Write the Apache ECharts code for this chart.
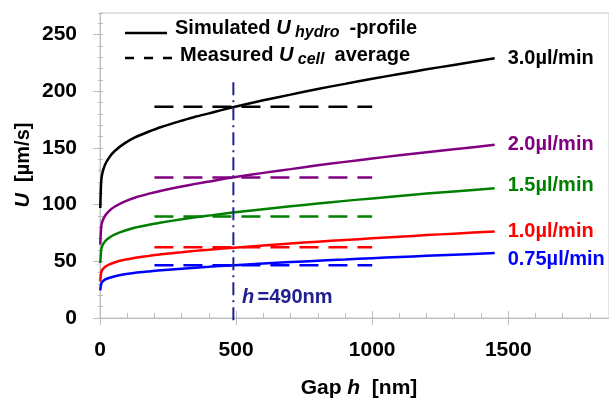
<!DOCTYPE html>
<html>
<head>
<meta charset="utf-8">
<script src="https://cdn.jsdelivr.net/npm/echarts@6/dist/echarts.min.js"></script>
<style>html,body{margin:0;padding:0;background:#fff}#c{width:609px;height:401px}</style>
</head>
<body>
<div id="c"></div>
<script>
// ---- data ----
const gapH = [1, 4, 8, 18, 35, 55, 90, 130, 180, 225, 300, 350, 400, 480, 600, 700, 800, 900, 1000, 1100, 1200, 1300, 1450];
const u30  = [97, 119, 127, 135, 142, 147.5, 154, 159.5, 164.5, 168.5, 174, 177.5, 180.5, 185.5, 192, 197, 202, 206.5, 211, 215.2, 219.3, 223.2, 229];
const u20  = [64.7, 79.3, 84.7, 90, 94.7, 98.3, 102.7, 106.3, 109.7, 112.3, 116, 118.3, 120.3, 123.7, 128, 131.3, 134.7, 137.7, 140.7, 143.5, 146.2, 148.8, 152.7];
const u15  = [48.5, 59.5, 63.5, 67.5, 71, 73.8, 77, 79.8, 82.3, 84.3, 87, 88.8, 90.3, 92.8, 96, 98.5, 101, 103.3, 105.5, 107.6, 109.7, 111.6, 114.5];
const u10  = [32.3, 39.7, 42.3, 45, 47.3, 49.2, 51.3, 53.2, 54.8, 56.2, 58, 59.2, 60.2, 61.8, 64, 65.7, 67.3, 68.8, 70.3, 71.7, 73.1, 74.4, 76.3];
const u075 = [24.3, 29.8, 31.8, 33.8, 35.5, 36.9, 38.5, 39.9, 41.1, 42.1, 43.5, 44.4, 45.1, 46.4, 48, 49.3, 50.5, 51.6, 52.8, 53.8, 54.8, 55.8, 57.3];
const measuredRange = [200, 1000];
const measured = [186.3, 124, 89.5, 62.5, 46.5];
const flowLabels = ['3.0µl/min', '2.0µl/min', '1.5µl/min', '1.0µl/min', '0.75µl/min'];
const markerGap = 490;
const markerSpan = [208, -5];
const xTicks = [0, 500, 1000, 1500];
const yTicks = [0, 50, 100, 150, 200, 250];

const colors = ['#000000', '#800080', '#008000', '#ff0000', '#0000ff'];
const labelOffsets = [[0, 0], [0, 0], [0, -3], [0, 0], [0, 6]];
const FONT = '"Liberation Sans", Arial, sans-serif';
const NAVY = '#202090';
const AXIS = '#bdbdbd';

const curves = [u30, u20, u15, u10, u075];
const series = [];
curves.forEach((vals, k) => {
  series.push({
    type: 'line', xAxisIndex: 0, yAxisIndex: 0,
    data: gapH.map((h, i) => [h, vals[i]]),
    showSymbol: false, smooth: 0.2,
    lineStyle: { color: colors[k], width: 2.5 },
    itemStyle: { color: colors[k] },
    silent: true, z: 3,
    endLabel: {
      show: true, formatter: flowLabels[k], color: colors[k],
      fontFamily: FONT, fontSize: 20, fontWeight: 'bold', distance: 13,
      offset: labelOffsets[k]
    }
  });
});
measured.forEach((v, k) => {
  series.push({
    type: 'line', xAxisIndex: 0, yAxisIndex: 0,
    data: measuredRange.map(h => [h, v]),
    showSymbol: false, silent: true, z: 2,
    lineStyle: { color: colors[k], width: 2.5, type: [19, 10] }
  });
});
series.push({
  type: 'line', xAxisIndex: 0, yAxisIndex: 0, clip: false,
  data: markerSpan.map(v => [markerGap, v]),
  showSymbol: false, silent: true, z: 4,
  lineStyle: { color: NAVY, width: 2, type: [13, 5, 2, 5] }
});

const bold = { fontFamily: FONT, fontWeight: 'bold', fontSize: 20, fill: '#000' };
const bold21 = Object.assign({}, bold, { fontSize: 21 });
const sub = Object.assign({}, bold, { fontStyle: 'italic', fontSize: 16, padding: [9, 0, 0, 0] });
const chart = echarts.init(document.getElementById('c'), null, { renderer: 'canvas' });
chart.setOption({
  animation: false,
  backgroundColor: '#fff',
  grid: { left: 100, right: -2, top: 13, bottom: 83, show: true, borderColor: '#c8c8c8', borderWidth: 1, backgroundColor: 'transparent' },
  xAxis: [{
    type: 'value', min: 0, max: 1870, interval: 500, position: 'bottom',
    axisLine: { show: true, onZero: false, lineStyle: { color: AXIS, width: 1 } },
    axisTick: { show: true, inside: false, length: 7, lineStyle: { color: AXIS } },
    minorTick: { show: false },
    splitLine: { show: false },
    axisLabel: { formatter: v => (xTicks.indexOf(v) >= 0 ? String(v) : ''), fontFamily: FONT, fontSize: 21, fontWeight: 'bold', color: '#000', margin: 22, showMaxLabel: false }
  }, {
    type: 'value', min: 0, max: 1870, interval: 500, position: 'top', offset: -305,
    axisLine: { show: false, onZero: false },
    axisTick: { show: true, inside: false, length: 7, lineStyle: { color: AXIS } },
    minorTick: { show: true, splitNumber: 5, length: 5, lineStyle: { color: AXIS } },
    splitLine: { show: false },
    axisLabel: { show: false }
  }],
  yAxis: [{
    type: 'value', min: 0, max: 269, interval: 50, position: 'left',
    axisLine: { show: true, onZero: false, lineStyle: { color: AXIS, width: 1 } },
    axisTick: { show: true, inside: false, length: 7, lineStyle: { color: AXIS } },
    minorTick: { show: false },
    splitLine: { show: false },
    axisLabel: { formatter: v => (yTicks.indexOf(v) >= 0 ? String(v) : ''), fontFamily: FONT, fontSize: 21, fontWeight: 'bold', color: '#000', margin: 23, showMaxLabel: false }
  }, {
    type: 'value', min: 0, max: 269, interval: 50, position: 'right', offset: -511,
    axisLine: { show: false, onZero: false },
    axisTick: { show: true, inside: false, length: 5, lineStyle: { color: AXIS } },
    minorTick: { show: true, splitNumber: 5, length: 5, lineStyle: { color: AXIS } },
    splitLine: { show: false },
    axisLabel: { show: false }
  }],
  series: series,
  graphic: [
    { type: 'line', shape: { x1: 125, y1: 33, x2: 167, y2: 33 }, style: { stroke: '#000', lineWidth: 2.5 }, z: 10 },
    { type: 'line', shape: { x1: 125, y1: 58, x2: 172, y2: 58 }, style: { stroke: '#000', lineWidth: 2.5, lineDash: [9, 10] }, z: 10 },
    { type: 'text', x: 175, y: 28, z: 10, style: {
      text: '{b|Simulated }{i|U}{s| hydro }{b| -profile}', textVerticalAlign: 'middle', textAlign: 'left',
      rich: { b: bold, i: Object.assign({}, bold, { fontStyle: 'italic' }), s: sub } } },
    { type: 'text', x: 180, y: 55, z: 10, style: {
      text: '{b|Measured }{i|U}{s| cell }{b| average}', textVerticalAlign: 'middle', textAlign: 'left',
      rich: { b: bold, i: Object.assign({}, bold, { fontStyle: 'italic' }), s: sub } } },
    { type: 'text', x: 242, y: 297, z: 10, style: {
      text: '{i|h} {b|=490nm}', textVerticalAlign: 'middle', textAlign: 'left',
      rich: {
        b: Object.assign({}, bold, { fill: NAVY }),
        i: Object.assign({}, bold, { fill: NAVY, fontStyle: 'italic' })
      } } },
    { type: 'text', x: 359, y: 388, z: 10, style: {
      text: '{b|Gap }{i|h}{b|  [nm]}', textVerticalAlign: 'middle', textAlign: 'center',
      rich: { b: bold21, i: Object.assign({}, bold21, { fontStyle: 'italic' }) } } },
    { type: 'text', x: 23, y: 165, rotation: Math.PI / 2, z: 10, style: {
      text: '{i|U}{b|  [µm/s]}', textVerticalAlign: 'middle', textAlign: 'center',
      rich: { b: bold, i: Object.assign({}, bold, { fontStyle: 'italic' }) } } }
  ]
});
</script>
</body>
</html>
